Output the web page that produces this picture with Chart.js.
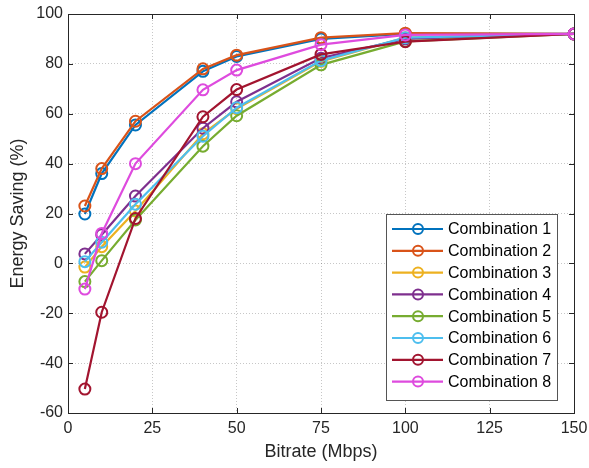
<!DOCTYPE html>
<html>
<head>
<meta charset="utf-8">
<script src="https://cdn.jsdelivr.net/npm/chart.js@4.4.1/dist/chart.umd.min.js"></script>
<style>
  html, body { margin: 0; padding: 0; background: #fff; }
  #wrap { width: 589px; height: 468px; }
</style>
</head>
<body>
<div id="wrap"><canvas id="myChart" width="589" height="468"></canvas></div>
<script>
// values
const bitrate = [5, 10, 20, 40, 50, 75, 100, 150];
const comb1 = [19.8, 36, 55.5, 77, 83, 90, 92, 92];
const comb2 = [23, 38, 57, 78, 83.5, 90.5, 92.3, 92];
const comb3 = [-1.5, 6.7, 21, 52, 62, 81, 90.5, 92];
const comb4 = [3.8, 11.5, 27, 54.2, 64.8, 82.3, 90, 92];
const comb5 = [-7.3, 1.1, 17.4, 47, 59.2, 79.6, 89, 92];
const comb6 = [0.7, 8.5, 23.7, 51, 62.4, 81.3, 90.5, 92];
const comb7 = [-50.4, -19.6, 18, 58.8, 69.7, 83.8, 88.9, 92];
const comb8 = [-10.3, 12, 40, 69.6, 77.5, 87.7, 91.6, 92];

const seriesNames = ['Combination 1', 'Combination 2', 'Combination 3', 'Combination 4',
  'Combination 5', 'Combination 6', 'Combination 7', 'Combination 8'];
const seriesValues = [comb1, comb2, comb3, comb4, comb5, comb6, comb7, comb8];
const colors = ['#0072BD', '#D95319', '#EDB120', '#7E2F8E', '#77AC30', '#4DBEEE', '#A2142F', '#DE4BDE'];

const xTicks = [0, 25, 50, 75, 100, 125, 150];
const yTicks = [-60, -40, -20, 0, 20, 40, 60, 80, 100];

const FONT = '"Liberation Sans", Arial, sans-serif';
const TXT = '#262626';

const datasets = seriesValues.map((vals, i) => ({
  label: seriesNames[i],
  data: vals.map((v, k) => ({ x: bitrate[k], y: v })),
  borderColor: colors[i],
  backgroundColor: colors[i],
  borderWidth: 2.2,
  pointRadius: 5.5,
  pointBorderWidth: 2,
  pointBackgroundColor: 'rgba(0,0,0,0)',
  pointBorderColor: colors[i],
  order: seriesNames.length - i,
  tension: 0
}));

// box, inward ticks and the legend inside the axes
const matlabBox = {
  id: 'matlabBox',
  afterDraw(chart) {
    const { ctx, chartArea: a, scales } = chart;
    ctx.save();
    ctx.strokeStyle = TXT;
    ctx.lineWidth = 1;
    ctx.strokeRect(Math.round(a.left) + 0.5, Math.round(a.top) + 0.5,
      Math.round(a.right - a.left), Math.round(a.bottom - a.top));
    ctx.beginPath();
    xTicks.forEach(t => {
      const px = Math.round(scales.x.getPixelForValue(t)) + 0.5;
      ctx.moveTo(px, a.bottom); ctx.lineTo(px, a.bottom - 5);
      ctx.moveTo(px, a.top); ctx.lineTo(px, a.top + 5);
    });
    yTicks.forEach(t => {
      const py = Math.round(scales.y.getPixelForValue(t)) + 0.5;
      ctx.moveTo(a.left, py); ctx.lineTo(a.left + 5, py);
      ctx.moveTo(a.right, py); ctx.lineTo(a.right - 5, py);
    });
    ctx.stroke();

    // legend
    const lx = 386, ly = 214, lw = 171, lh = 186, row = 21.8;
    ctx.fillStyle = '#fff';
    ctx.fillRect(lx, ly, lw, lh);
    ctx.strokeStyle = '#555';
    ctx.strokeRect(lx + 0.5, ly + 0.5, lw, lh);
    ctx.font = '16px ' + FONT;
    ctx.textBaseline = 'middle';
    seriesNames.forEach((name, i) => {
      const y = ly + 15 + i * row;
      ctx.strokeStyle = colors[i];
      ctx.lineWidth = 2.2;
      ctx.beginPath();
      ctx.moveTo(lx + 6, y); ctx.lineTo(lx + 57, y);
      ctx.stroke();
      ctx.lineWidth = 2;
      ctx.beginPath();
      ctx.arc(lx + 32, y, 5, 0, Math.PI * 2);
      ctx.stroke();
      ctx.fillStyle = '#000';
      ctx.fillText(name, lx + 62, y + 1);
    });
    ctx.restore();
  }
};

const config = {
  type: 'line',
  data: { datasets: datasets },
  options: {
    responsive: false,
    animation: false,
    layout: { padding: { top: 14, right: 15, bottom: 0, left: 0 } },
    plugins: { legend: { display: false }, tooltip: { enabled: false } },
    scales: {
      x: {
        type: 'linear',
        min: 0, max: 150,
        afterFit: s => { s.height = 55; s.paddingLeft = 0; s.paddingRight = 0; },
        afterBuildTicks: s => { s.ticks = xTicks.map(v => ({ value: v })); },
        ticks: { color: TXT, font: { family: FONT, size: 16 }, padding: 6, maxRotation: 0 },
        grid: { color: 'rgba(0,0,0,0.22)', drawTicks: false, lineWidth: 1 },
        border: { display: true, color: TXT, width: 1, dash: [1, 2] },
        title: { display: true, text: 'Bitrate (Mbps)', color: TXT, font: { family: FONT, size: 18 }, padding: { top: 0, bottom: 5 } }
      },
      y: {
        min: -60, max: 100,
        afterFit: s => { s.width = 68; s.paddingTop = 0; s.paddingBottom = 0; },
        afterBuildTicks: s => { s.ticks = yTicks.map(v => ({ value: v })); },
        ticks: { color: TXT, font: { family: FONT, size: 16 }, padding: 5 },
        grid: { color: 'rgba(0,0,0,0.22)', drawTicks: false, lineWidth: 1 },
        border: { display: true, color: TXT, width: 1, dash: [1, 2] },
        title: { display: true, text: 'Energy Saving (%)', color: TXT, font: { family: FONT, size: 18 }, padding: { top: 7, bottom: 0 } }
      }
    }
  },
  plugins: [matlabBox]
};

document.addEventListener('DOMContentLoaded', () => {
  new Chart(document.getElementById('myChart'), config);
});
</script>
</body>
</html>
